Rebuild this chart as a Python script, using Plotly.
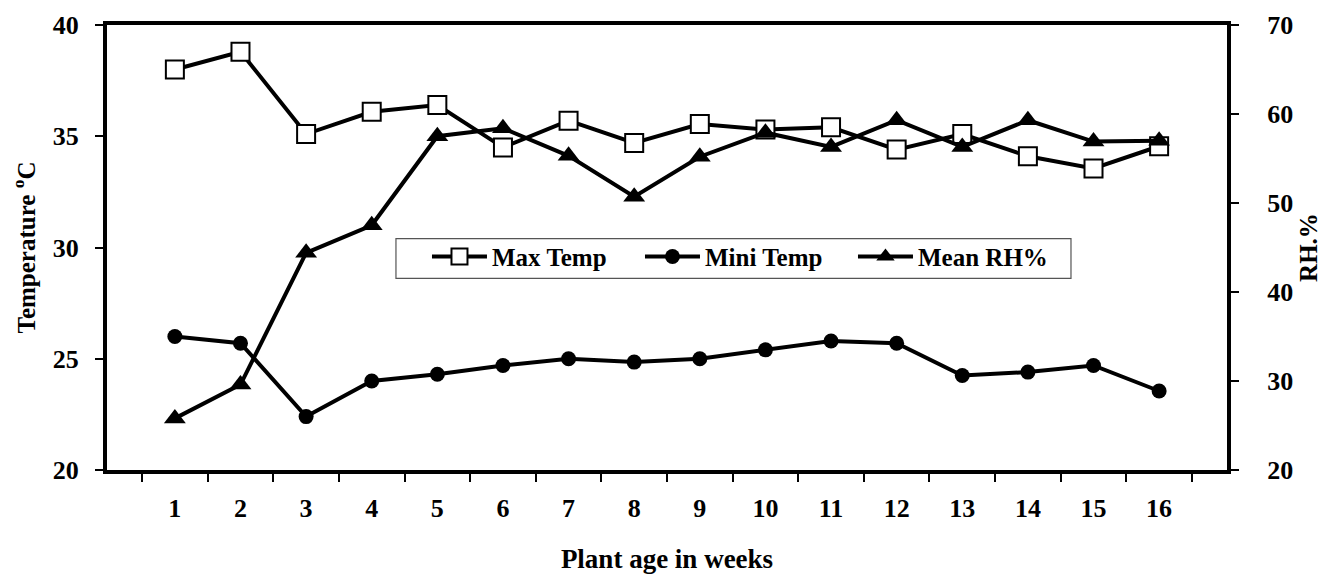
import plotly.graph_objects as go

weeks = [str(i) for i in range(1, 17)]
max_temp = [38.0, 38.8, 35.1, 36.1, 36.4, 34.5, 35.7, 34.7, 35.55, 35.3, 35.4, 34.4, 35.1, 34.1, 33.55, 34.55]
mini_temp = [26.0, 25.7, 22.4, 24.0, 24.3, 24.7, 25.0, 24.85, 25.0, 25.4, 25.8, 25.7, 24.25, 24.4, 24.7, 23.55]
mean_rh = [25.8, 29.6, 44.4, 47.5, 57.5, 58.4, 55.3, 50.7, 55.2, 57.9, 56.3, 59.3, 56.3, 59.3, 56.9, 57.0]

left_ticks = [20, 25, 30, 35, 40]
right_ticks = [20, 30, 40, 50, 60, 70]
x_boundaries = [i - 0.5 for i in range(len(weeks) + 1)]

FONT = "Liberation Serif, Times New Roman, serif"
TICKF = dict(family=FONT, size=26, color="black", weight="bold")
XTITLEF = dict(family=FONT, size=27, color="black", weight="bold")
YTITLEF = dict(family=FONT, size=25, color="black", weight="bold")

fig = go.Figure()
fig.add_trace(go.Scatter(
    x=weeks, y=max_temp, name="Max Temp", mode="lines+markers",
    line=dict(color="black", width=4),
    marker=dict(symbol="square", size=18, color="white", line=dict(color="black", width=2)),
    yaxis="y"))
fig.add_trace(go.Scatter(
    x=weeks, y=mini_temp, name="Mini Temp", mode="lines+markers",
    line=dict(color="black", width=4),
    marker=dict(symbol="circle", size=15, color="black"),
    yaxis="y"))
fig.add_trace(go.Scatter(
    x=weeks, y=mean_rh, name="Mean RH%", mode="lines+markers",
    line=dict(color="black", width=4),
    marker=dict(symbol="triangle-up", size=19, color="black"),
    yaxis="y2"))

# legend frame (styling only)
fig.add_shape(type="rect", xref="paper", yref="paper",
              x0=0.258, x1=0.8607, y0=0.4305, y1=0.520,
              line=dict(color="#555555", width=1.2), fillcolor="white", layer="above")

fig.update_layout(
    width=1322, height=566,
    margin=dict(l=99, r=103, t=17, b=104),
    paper_bgcolor="white", plot_bgcolor="white",
    font=dict(family=FONT, size=25, color="black", weight="bold"),
    showlegend=True,
    legend=dict(
        orientation="h", x=0.2857, y=0.531, xanchor="left", yanchor="top",
        bgcolor="rgba(0,0,0,0)", borderwidth=0,
        font=dict(family=FONT, size=25, color="black", weight="bold"),
        itemwidth=55, entrywidth=143, entrywidthmode="pixels",
        traceorder="normal",
    ),
    xaxis=dict(
        type="category", tickson="boundaries", automargin=False,
        showline=True, linecolor="black", linewidth=4, mirror=True,
        ticks="outside", ticklen=8, tickwidth=1.5, tickcolor="black",
        showgrid=False, zeroline=False, ticklabelstandoff=12,
        title=dict(text="Plant age in weeks", standoff=31, font=XTITLEF),
        tickfont=TICKF,
    ),
    xaxis2=dict(
        overlaying="x", anchor="y", side="bottom", range=[-0.5, len(weeks) - 0.5],
        tickvals=x_boundaries, showticklabels=False, automargin=False,
        ticks="inside", ticklen=8, tickwidth=1.5, tickcolor="black",
        showgrid=False, zeroline=False, showline=False,
    ),
    yaxis=dict(
        range=[20, 40], tickvals=left_ticks, automargin=False,
        showline=True, linecolor="black", linewidth=4,
        ticks="outside", ticklen=8, tickwidth=1.5, tickcolor="black",
        showgrid=False, zeroline=False, ticklabelstandoff=11,
        title=dict(text="Temperature <sup>o</sup>C", standoff=22, font=YTITLEF),
        tickfont=TICKF,
    ),
    yaxis2=dict(
        range=[20, 70], tickvals=right_ticks, overlaying="y", side="right",
        anchor="x", automargin=False,
        showline=True, linecolor="black", linewidth=4,
        ticks="outside", ticklen=8, tickwidth=1.5, tickcolor="black",
        showgrid=False, zeroline=False, ticklabelstandoff=23,
        title=dict(text="RH.%", standoff=8, font=YTITLEF),
        tickfont=TICKF,
    ),
    yaxis3=dict(
        range=[20, 40], tickvals=left_ticks, overlaying="y", side="left",
        anchor="x", showticklabels=False, automargin=False,
        ticks="inside", ticklen=8, tickwidth=1.5, tickcolor="black",
        showgrid=False, zeroline=False, showline=False,
    ),
    yaxis4=dict(
        range=[20, 70], tickvals=right_ticks, overlaying="y", side="right",
        anchor="x", showticklabels=False, automargin=False,
        ticks="inside", ticklen=8, tickwidth=1.5, tickcolor="black",
        showgrid=False, zeroline=False, showline=False,
    ),
)

fig.write_html("out.html")
